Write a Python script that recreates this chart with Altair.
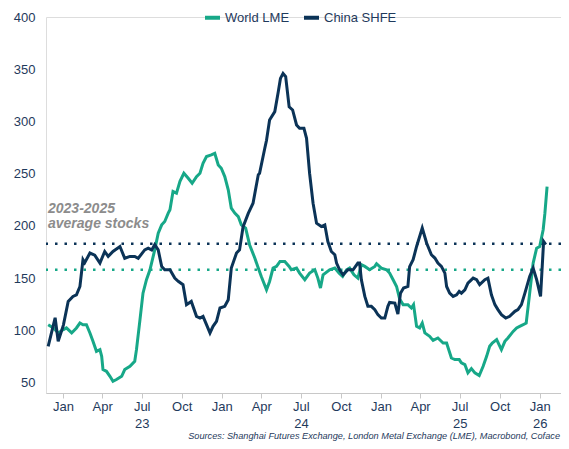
import altair as alt
import pandas as pd

# ---- data ----
series_names = ["World LME", "China SHFE"]
series_colors = ["#17a888", "#0b3357"]

lme_dates = ["2022-11-28","2022-12-10","2022-12-21","2023-01-02","2023-01-09","2023-01-21","2023-02-01","2023-02-09",
    "2023-02-16","2023-02-24","2023-03-04","2023-03-11","2023-03-19","2023-03-27","2023-03-31","2023-04-03","2023-04-11",
    "2023-04-19","2023-04-26","2023-05-04","2023-05-16","2023-05-23","2023-06-04","2023-06-15","2023-06-19","2023-06-27",
    "2023-07-04","2023-07-12","2023-07-20","2023-07-31","2023-08-08","2023-08-16","2023-08-23","2023-08-31","2023-09-04",
    "2023-09-11","2023-09-19","2023-09-27","2023-10-06","2023-10-16","2023-10-25","2023-11-04","2023-11-12","2023-11-19",
    "2023-11-27","2023-12-08","2023-12-16","2023-12-24","2023-12-31","2024-01-08","2024-01-16","2024-01-23","2024-01-31",
    "2024-02-08","2024-02-15","2024-02-25","2024-03-05","2024-03-17","2024-03-25","2024-04-01","2024-04-13","2024-04-20",
    "2024-04-28","2024-05-06","2024-05-14","2024-05-25","2024-06-04","2024-06-09","2024-06-21","2024-06-28","2024-07-10",
    "2024-07-21","2024-08-02","2024-08-09","2024-08-15","2024-08-21","2024-09-05","2024-09-17","2024-09-27","2024-10-05",
    "2024-10-14","2024-10-21","2024-10-31","2024-11-09","2024-11-17","2024-11-25","2024-12-06","2024-12-18","2024-12-22",
    "2025-01-02","2025-01-14","2025-01-21","2025-01-29","2025-02-06","2025-02-13","2025-02-21","2025-03-04","2025-03-12",
    "2025-03-17","2025-03-24","2025-03-31","2025-04-06","2025-04-12","2025-04-23","2025-05-01","2025-05-12","2025-05-24",
    "2025-06-01","2025-06-12","2025-06-20","2025-06-30","2025-07-05","2025-07-13","2025-07-20","2025-07-28","2025-08-05",
    "2025-08-15","2025-08-24","2025-09-01","2025-09-08","2025-09-14","2025-09-24","2025-10-05","2025-10-13","2025-10-20",
    "2025-11-01","2025-11-09","2025-11-16","2025-11-24","2025-12-01","2025-12-09","2025-12-17","2025-12-25","2026-01-01",
    "2026-01-09","2026-01-13","2026-01-18"]
lme_values = [105.4,102.3,97.5,100.7,102.3,97.5,102.3,107,
    105.4,105.4,97.5,89.5,79.9,81.5,75.1,62.4,60.8,
    56,51.2,52.9,56,62.4,65.6,70.4,81.5,110,
    135.6,148.5,158,177,193,201,204.2,212.2,215.4,
    232.9,231.3,242.6,250.4,245.6,240.8,247.2,250.4,260,
    266.4,268,269.5,258.4,255.2,247.2,234.5,217,212.2,
    208.9,201,197.9,182,169.2,159.6,151.6,138.9,146.8,
    159.6,161.2,166,166,161.2,158,159.6,154.8,148.5,
    154.8,158,150,140.5,153.2,158,159.6,154.8,151.6,
    158,159.6,153.2,150,162.8,161.2,158,161.2,163.8,
    159.6,158,154.8,148.5,142,130,124.6,124.6,121.4,
    124.6,103.8,102.3,107,97.5,94.3,90.4,92.7,87.9,
    87.9,73.5,72,72,68.8,67.2,59.3,63.4,59.3,
    56.7,65.6,75.1,84.7,87.9,91.1,81.5,89.5,92.7,
    99,102.3,103.8,105.4,107,135.6,164.4,178.7,180.3,
    196.3,212.2,237.7]

shfe_dates = ["2022-11-28","2022-12-14","2022-12-21","2023-01-02","2023-01-13","2023-01-24","2023-02-01","2023-02-09",
    "2023-02-16","2023-02-20","2023-03-04","2023-03-15","2023-03-27","2023-04-07","2023-04-15","2023-04-26","2023-05-12",
    "2023-05-23","2023-06-04","2023-06-15","2023-06-23","2023-07-08","2023-07-16","2023-07-24","2023-07-31","2023-08-08",
    "2023-08-16","2023-08-23","2023-09-04","2023-09-15","2023-09-23","2023-10-04","2023-10-12","2023-10-23","2023-11-04",
    "2023-11-12","2023-11-19","2023-11-27","2023-12-05","2023-12-12","2023-12-20","2023-12-28","2024-01-08","2024-01-16",
    "2024-01-23","2024-02-04","2024-02-11","2024-02-19","2024-03-02","2024-03-13","2024-03-25","2024-03-28","2024-04-09",
    "2024-04-13","2024-04-20","2024-05-02","2024-05-10","2024-05-15","2024-05-21","2024-05-27","2024-06-04","2024-06-12",
    "2024-06-21","2024-06-28","2024-07-08","2024-07-14","2024-07-21","2024-07-29","2024-08-06","2024-08-17","2024-08-25",
    "2024-09-01","2024-09-09","2024-09-17","2024-09-21","2024-09-28","2024-10-06","2024-10-17","2024-10-29","2024-11-09",
    "2024-11-13","2024-11-17","2024-11-25","2024-12-02","2024-12-10","2024-12-18","2024-12-25","2025-01-02","2025-01-10",
    "2025-01-17","2025-01-21","2025-02-02","2025-02-09","2025-02-15","2025-02-22","2025-03-04","2025-03-08","2025-03-16",
    "2025-03-24","2025-04-06","2025-04-16","2025-04-27","2025-05-05","2025-05-12","2025-05-20","2025-05-28","2025-06-01",
    "2025-06-08","2025-06-16","2025-06-24","2025-06-30","2025-07-05","2025-07-13","2025-07-20","2025-08-01","2025-08-09",
    "2025-08-16","2025-08-28","2025-09-04","2025-09-12","2025-09-20","2025-09-27","2025-10-05","2025-10-15","2025-10-24",
    "2025-11-05","2025-11-12","2025-11-20","2025-11-28","2025-12-09","2025-12-17","2025-12-25","2026-01-03","2026-01-10",
    "2026-01-15"]
shfe_values = [84.7,112,89.5,105,127.7,132.5,134,142,
    167.6,164.7,174,172,164.4,175.5,170.8,175.5,180.3,
    169,170.8,170.8,169,177,178.7,177,182,177,
    161,158,158,150,147,143.7,124.6,127.7,113.4,
    111.8,113.4,105.4,97.5,103.8,108.6,121.4,123,129.3,
    159.6,174,177,199,212,221.7,248.9,250.4,274.3,
    282,301.4,309.4,328.5,341.2,346,343,314,311,
    296.6,293.4,293.4,283.9,250.4,221.7,202.6,199.4,201,
    185,175.5,172.4,164.4,158,153.2,158,158,164.4,
    164.4,148.5,132.5,123,123,119.8,115,111.8,111.8,
    123,126.7,126.1,115.5,135.6,140.5,142,161,167.6,
    180.3,197.9,183.6,172.4,169.2,164.4,161.2,154.8,142,
    135.6,132.5,134,137.3,135.6,138.8,145.2,150,148.5,
    143.7,148.5,150,134,124.6,119.8,115,111.8,113.4,
    118.2,119.8,124.6,135.6,151.6,159.6,148.5,132.5,185,
    182]

avg_lme = 158
avg_shfe = 183
y_ticks = [50, 100, 150, 200, 250, 300, 350, 400]
tick_months = [(2023, 1), (2023, 4), (2023, 7), (2023, 10), (2024, 1), (2024, 4), (2024, 7), (2024, 10),
               (2025, 1), (2025, 4), (2025, 7), (2025, 10), (2026, 1)]
annotation_lines = ["2023-2025", "average stocks"]
source_text = "Sources: Shanghai Futures Exchange, London Metal Exchange (LME), Macrobond, Coface"

# ---- build tables ----
df = pd.concat([
    pd.DataFrame({"date": lme_dates, "value": lme_values, "series": series_names[0]}),
    pd.DataFrame({"date": shfe_dates, "value": shfe_values, "series": series_names[1]}),
], ignore_index=True)

FONT = "Liberation Sans"
LABEL = "#1f3a5c"
W, H = 515, 376
NB = "\u00a0" * 9

x_scale = alt.Scale(type="utc",
                    domain=[alt.DateTime(year=2022, month=11, date=23, utc=True),
                            alt.DateTime(year=2026, month=2, date=19, utc=True)],
                    nice=False)
y_scale = alt.Scale(domain=[40, 400], nice=False, zero=False)

label_expr = ("utcFormat(datum.value, '%m') == '07' ? ['Jul', utcFormat(datum.value, '%y')] : "
              "(utcFormat(datum.value, '%Y') == '2026' ? ['Jan', '" + NB + "26'] : utcFormat(datum.value, '%b'))")

x_axis = alt.Axis(title=None, values=[alt.DateTime(year=y, month=m, date=1, utc=True) for y, m in tick_months],
                  labelExpr=label_expr, labelFontSize=13, labelFont=FONT, labelColor=LABEL,
                  labelLineHeight=17, labelPadding=2.5, tickSize=5, tickColor="#c8c8c8",
                  domainColor="#c8c8c8", domainWidth=1.2, grid=False, labelOverlap=False)
y_axis = alt.Axis(title=None, values=y_ticks, labelFontSize=13, labelFont=FONT, labelColor=LABEL,
                  ticks=False, tickSize=0, domain=False, grid=False, labelPadding=11)

lines = alt.Chart(df).mark_line(strokeWidth=3).encode(
    x=alt.X("date:T", scale=x_scale, axis=x_axis),
    y=alt.Y("value:Q", scale=y_scale, axis=y_axis),
    color=alt.Color("series:N", scale=alt.Scale(domain=series_names, range=series_colors),
                    sort=series_names,
                    legend=alt.Legend(title=None, orient="none", legendX=157, legendY=-9,
                                      direction="horizontal", symbolType="stroke",
                                      symbolStrokeWidth=4, symbolSize=225, labelFontSize=13,
                                      labelFont=FONT, labelColor=LABEL, labelOffset=3,
                                      columnPadding=6)),
    order=alt.Order("date:T"),
)

rule_lme = alt.Chart(pd.DataFrame({"v": [avg_lme]})).mark_rule(
    color=series_colors[0], strokeWidth=2.5, strokeDash=[2.5, 7]).encode(y=alt.Y("v:Q", scale=y_scale))
rule_shfe = alt.Chart(pd.DataFrame({"v": [avg_shfe]})).mark_rule(
    color=series_colors[1], strokeWidth=2.5, strokeDash=[2.5, 7]).encode(y=alt.Y("v:Q", scale=y_scale))

annot = alt.Chart(pd.DataFrame({"t": ["\n".join(annotation_lines)]})).mark_text(
    align="left", baseline="alphabetic", fontSize=14, fontStyle="italic", fontWeight="bold",
    font=FONT, color="#8c8c8c", lineBreak="\n", lineHeight=15).encode(
    x=alt.value(2), y=alt.value(196), text="t:N")

source = alt.Chart(pd.DataFrame({"t": [source_text]})).mark_text(
    align="right", baseline="alphabetic", fontSize=9.2, fontStyle="italic", font=FONT,
    color=LABEL).encode(x=alt.value(514), y=alt.value(421.5), text="t:N")

chart = alt.layer(rule_lme, rule_shfe, lines, annot, source).properties(
    width=W, height=H,
    autosize=alt.AutoSizeParams(type="none"),
    padding={"left": 38, "top": 9, "right": 0, "bottom": 48},
).configure_view(stroke=None).configure(background="white")

chart.save("out.html", embed_options={"renderer": "svg", "actions": False})
